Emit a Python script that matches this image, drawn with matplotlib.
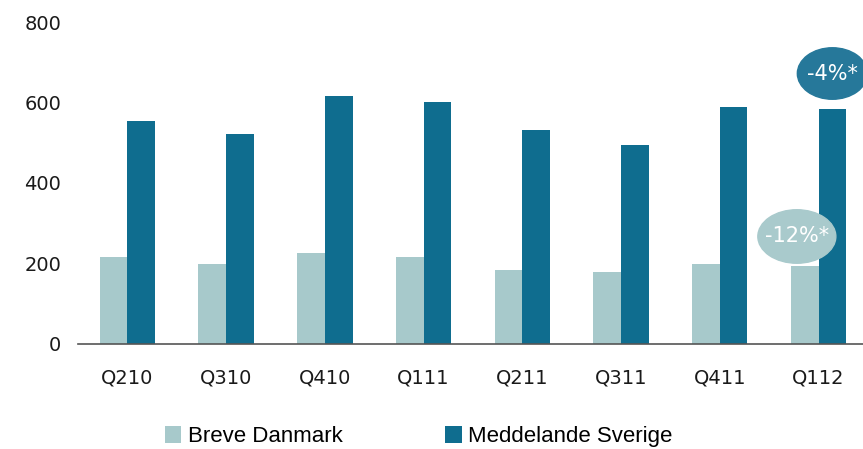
import matplotlib
matplotlib.use("Agg")
import matplotlib.pyplot as plt
from matplotlib.patches import Ellipse
import numpy as np

quarters = ["Q210", "Q310", "Q410", "Q111", "Q211", "Q311", "Q411", "Q112"]
breve_dk = [215, 198, 225, 215, 183, 178, 198, 193]
medd_se = [553, 521, 615, 600, 531, 494, 590, 583]

light = "#a7c9cb"
dark = "#0f6d8f"

fig = plt.figure(figsize=(8.63, 4.49), dpi=100)
ax = fig.add_axes([78 / 863, 0.234, 1 - 78 / 863, 0.717])

x = np.arange(len(quarters))
w = 0.28
ax.bar(x - w / 2, breve_dk, w, color=light, label="Breve Danmark")
ax.bar(x + w / 2, medd_se, w, color=dark, label="Meddelande Sverige")

ax.set_xlim(-0.5, 7.45)
ax.set_ylim(0, 800)
ax.set_yticks([0, 200, 400, 600, 800])
ax.set_xticks(x)
ax.set_xticklabels(quarters)
ax.tick_params(length=0, labelsize=14, colors="#1a1a1a")
ax.tick_params(axis="y", pad=12)
ax.tick_params(axis="x", pad=18)
for s in ["top", "right", "left"]:
    ax.spines[s].set_visible(False)
ax.spines["bottom"].set_color("#555555")
ax.spines["bottom"].set_linewidth(1.2)

# callouts
e1 = Ellipse((7.14, 672), 0.71, 128, color="#26789a", clip_on=False, zorder=5)
ax.add_patch(e1)
ax.text(7.14, 672, "-4%*", color="white", fontsize=15, ha="center", va="center", zorder=6)
e2 = Ellipse((6.78, 267), 0.79, 133, color="#a9cacc", clip_on=False, zorder=5)
ax.add_patch(e2)
ax.text(6.78, 267, "-12%*", color="white", fontsize=15, ha="center", va="center", zorder=6)

fig.legend(loc="center", bbox_to_anchor=(0.485, 0.027), ncol=2, frameon=False,
           prop={"family": "Liberation Sans", "size": 16},
           handlelength=0.75, handleheight=0.75, handletextpad=0.3,
           columnspacing=4.6)

fig.savefig("out.png", dpi=100)
